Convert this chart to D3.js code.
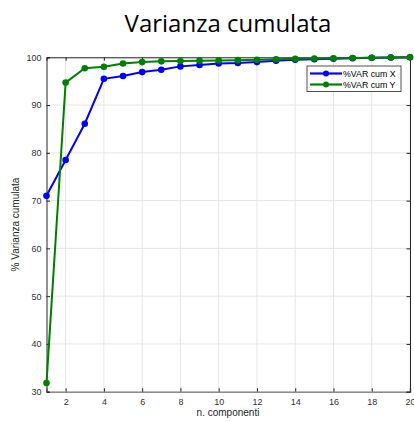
<!DOCTYPE html>
<html>
<head>
<meta charset="utf-8">
<script src="https://cdn.jsdelivr.net/npm/d3@7"></script>
<style>
  html, body { margin: 0; padding: 0; background: #fff; }
  svg { display: block; }
</style>
</head>
<body>
<div id="chart"></div>
<script>
// Number of components
const components = d3.range(1, 21);
// Cumulative explained variance (%) for X and Y
const varCumX = [71.0, 78.5, 86.1, 95.5, 96.1, 96.9, 97.4, 98.1, 98.4, 98.7, 98.8, 99.0, 99.3, 99.5, 99.6, 99.7, 99.8, 99.9, 99.95, 100];
const varCumY = [31.8, 94.7, 97.7, 98.0, 98.7, 99.0, 99.15, 99.2, 99.3, 99.35, 99.4, 99.5, 99.6, 99.7, 99.75, 99.8, 99.85, 99.9, 99.95, 100];
const seriesNames = ["%VAR cum X", "%VAR cum Y"];
const xTicks = [2, 4, 6, 8, 10, 12, 14, 16, 18, 20];
const yTicks = [30, 40, 50, 60, 70, 80, 90, 100];

const W = 414, H = 422;
const m = { left: 46.5, right: 4, top: 57.3, bottom: 30.3 };

const svg = d3.select("#chart").append("svg")
  .attr("width", W).attr("height", H);

const x = d3.scaleLinear().domain([1, 20]).range([m.left, W - m.right]);
const y = d3.scaleLinear().domain([30, 100]).range([H - m.bottom, m.top]);

const tickFont = "'Liberation Sans', Arial, sans-serif";

// grid
const grid = svg.append("g");
grid.selectAll("line.gx").data(xTicks).join("line")
  .attr("x1", d => x(d)).attr("x2", d => x(d))
  .attr("y1", y(30)).attr("y2", y(100))
  .attr("stroke", "#e6e6e6").attr("stroke-width", 1);
grid.selectAll("line.gy").data(yTicks).join("line")
  .attr("x1", x(1)).attr("x2", x(20))
  .attr("y1", d => y(d)).attr("y2", d => y(d))
  .attr("stroke", "#e6e6e6").attr("stroke-width", 1);

// axes
const xAxis = d3.axisBottom(x).tickValues(xTicks).tickSize(-3.5).tickPadding(7);
const yAxis = d3.axisLeft(y).tickValues(yTicks).tickSize(-3.5).tickPadding(5);

const gx = svg.append("g").attr("transform", `translate(0,${y(30)})`).call(xAxis);
const gy = svg.append("g").attr("transform", `translate(${x(1)},0)`).call(yAxis);
// top and right box lines with ticks
const gxt = svg.append("g").attr("transform", `translate(0,${y(100)})`)
  .call(d3.axisTop(x).tickValues(xTicks).tickSize(-3.5).tickFormat(""));
const gyr = svg.append("g").attr("transform", `translate(${x(20)},0)`)
  .call(d3.axisRight(y).tickValues(yTicks).tickSize(-3.5).tickFormat(""));

[gx, gy, gxt, gyr].forEach(g => {
  g.select(".domain").attr("stroke", "#262626").attr("stroke-width", 1);
  g.selectAll(".tick line").attr("stroke", "#262626");
  g.selectAll(".tick text").attr("fill", "#333")
    .style("font-family", tickFont).style("font-size", "9px");
});
gx.select(".domain").attr("stroke", "#8c8c8c").attr("stroke-width", 1.6);

// lines
const colors = ["#0000ff", "#008000"];
const data = [varCumX, varCumY];
const line = d3.line().x((d, i) => x(components[i])).y(d => y(d));

data.forEach((vals, k) => {
  svg.append("path").datum(vals)
    .attr("fill", "none").attr("stroke", colors[k]).attr("stroke-width", 2)
    .attr("d", line);
  svg.append("g").selectAll("circle").data(vals).join("circle")
    .attr("cx", (d, i) => x(components[i])).attr("cy", d => y(d))
    .attr("r", 3.3).attr("fill", colors[k]);
});

// legend
const lg = svg.append("g").attr("transform", "translate(307,66)");
lg.append("rect").attr("width", 94).attr("height", 25.5)
  .attr("fill", "#fff").attr("stroke", "#262626").attr("stroke-width", 0.8);
seriesNames.forEach((name, k) => {
  const yy = 7.5 + k * 11;
  lg.append("line").attr("x1", 3).attr("x2", 35).attr("y1", yy).attr("y2", yy)
    .attr("stroke", colors[k]).attr("stroke-width", 2.2);
  lg.append("circle").attr("cx", 19).attr("cy", yy).attr("r", 3).attr("fill", colors[k]);
  lg.append("text").attr("x", 36).attr("y", yy + 3)
    .style("font-family", tickFont).style("font-size", "8.8px").attr("fill", "#000")
    .text(name);
});

// labels
svg.append("text").attr("x", 228).attr("y", 32).attr("text-anchor", "middle")
  .style("font-family", "'Open Sans', sans-serif").style("font-size", "24px").attr("fill", "#000")
  .text("Varianza cumulata");

svg.append("text").attr("x", 228).attr("y", 416).attr("text-anchor", "middle")
  .style("font-family", tickFont).style("font-size", "10px").attr("fill", "#262626")
  .text("n. componenti");

svg.append("text")
  .attr("transform", `translate(19,${(y(30) + y(100)) / 2}) rotate(-90)`)
  .attr("text-anchor", "middle")
  .style("font-family", tickFont).style("font-size", "10px").attr("fill", "#262626")
  .text("% Varianza cumulata");
</script>
</body>
</html>
